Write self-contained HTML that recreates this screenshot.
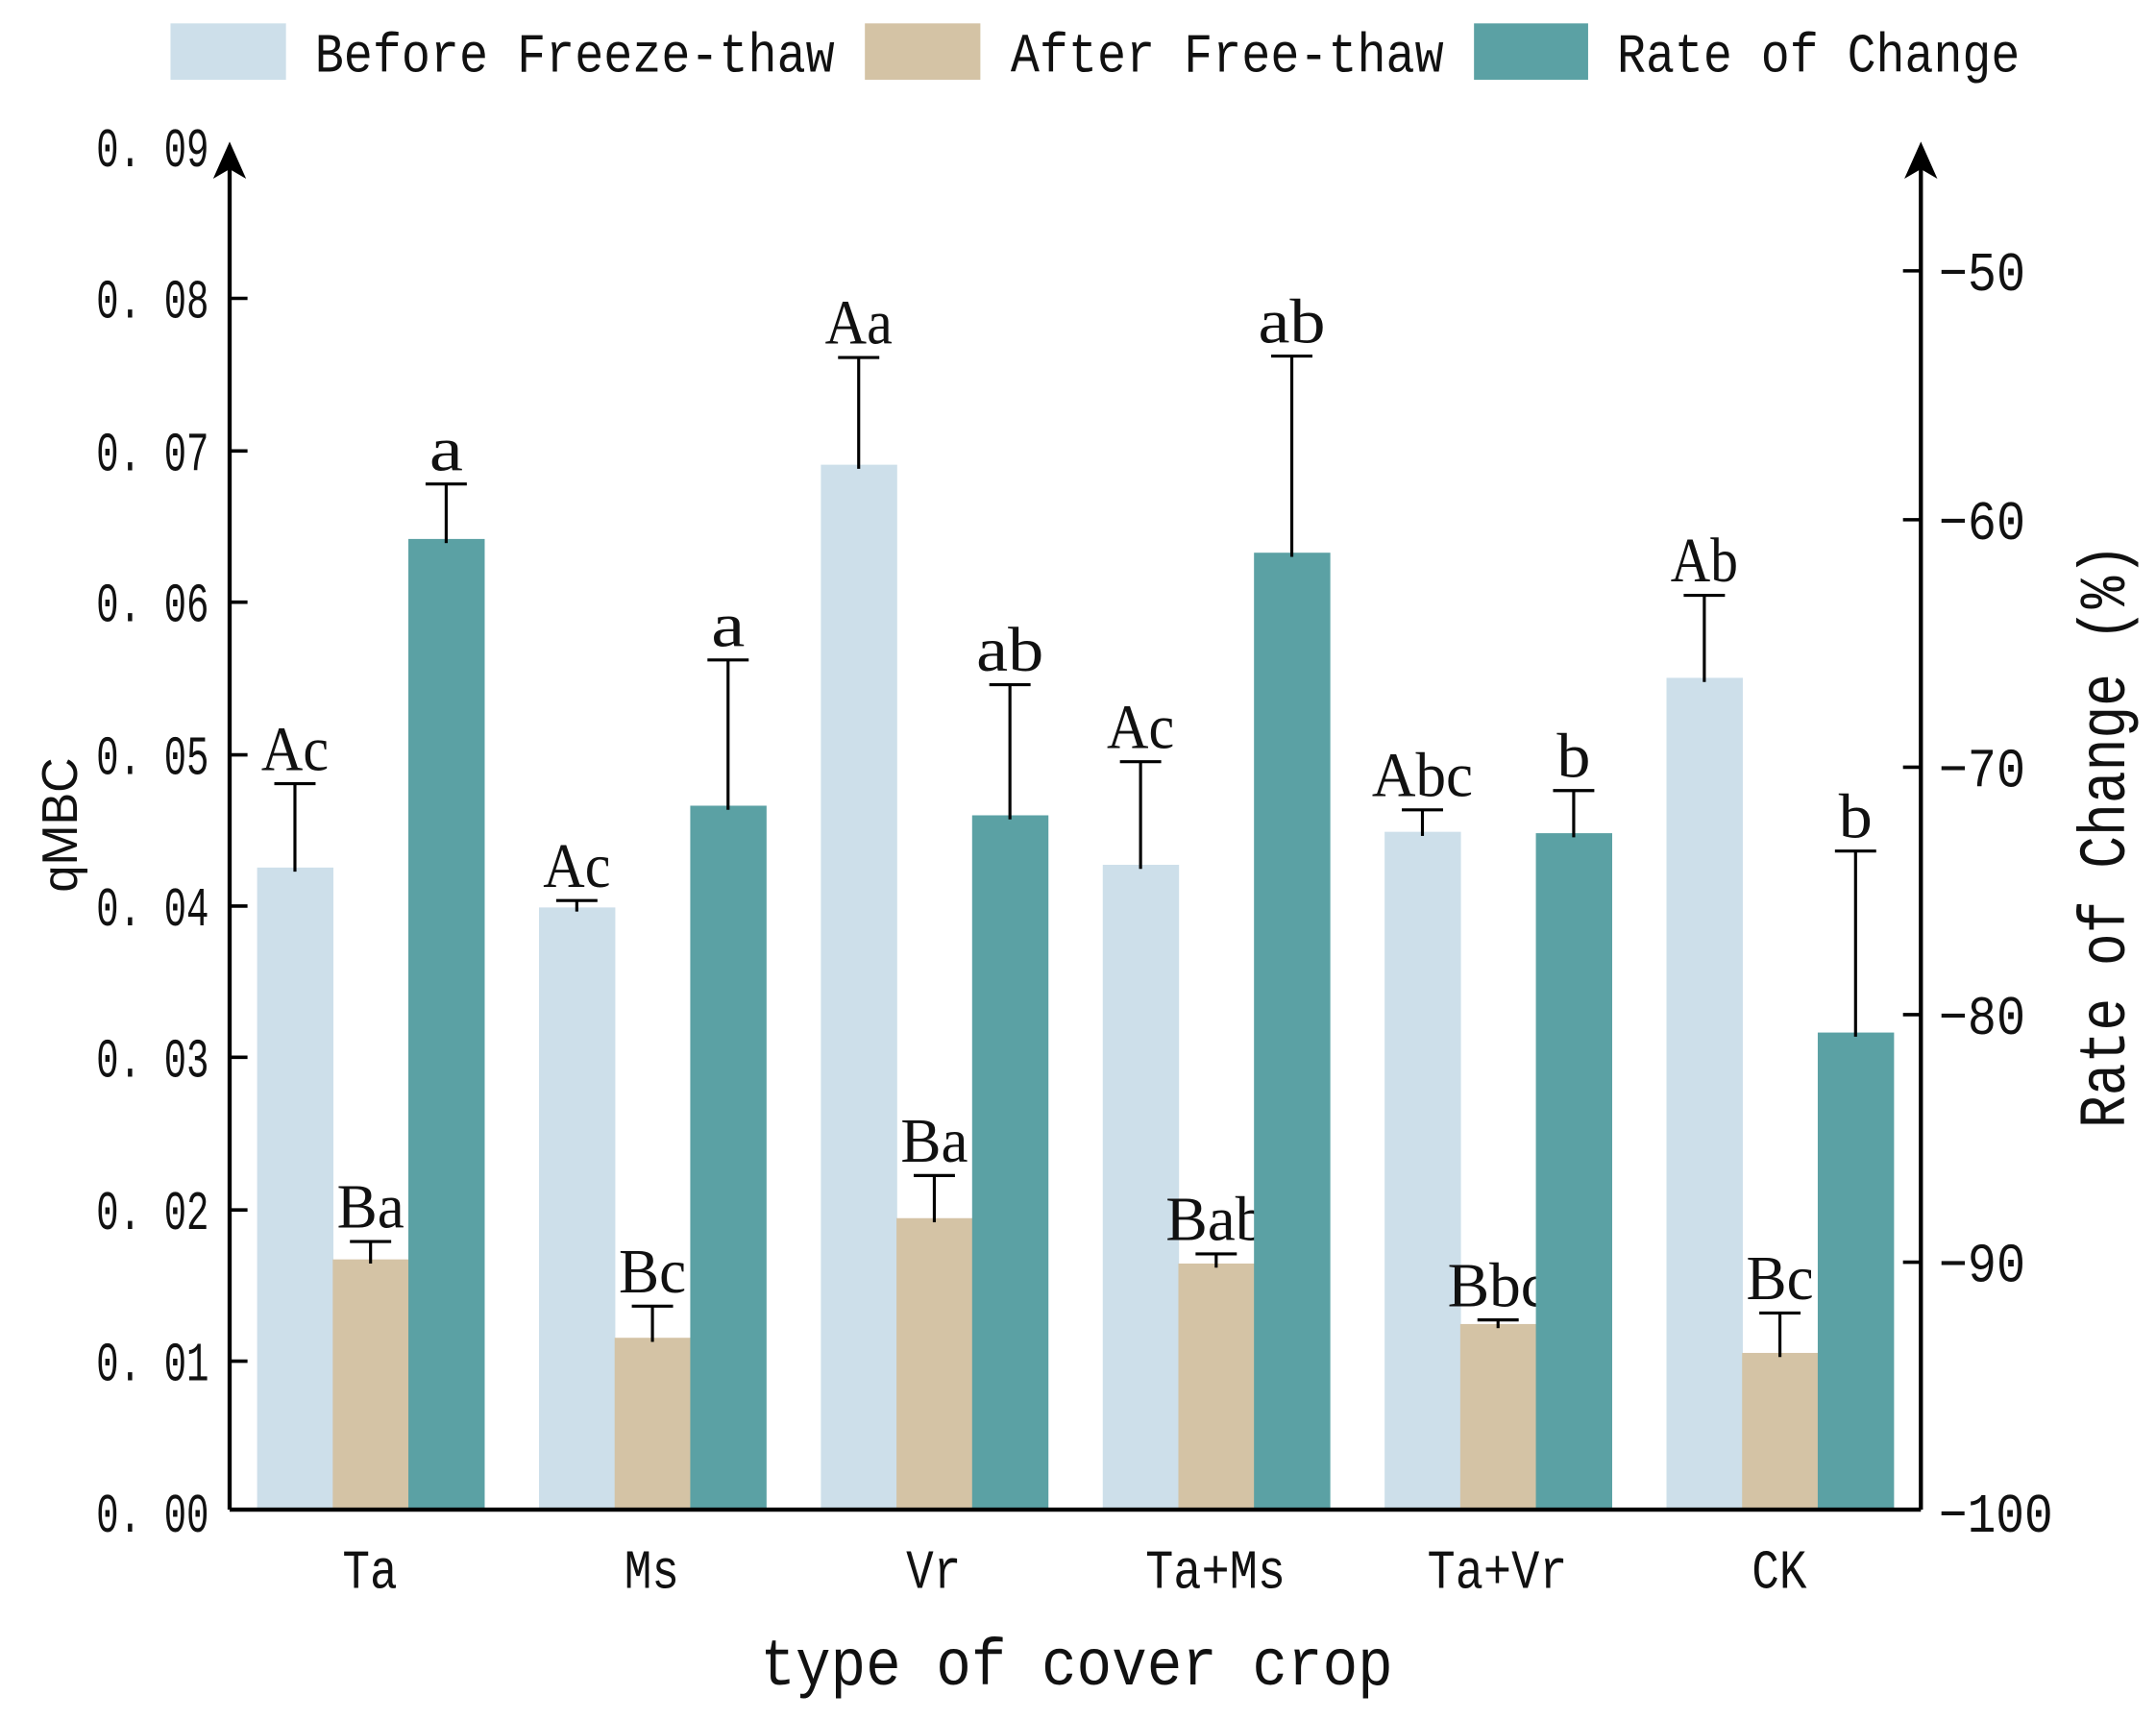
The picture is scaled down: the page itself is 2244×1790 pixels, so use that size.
<!DOCTYPE html>
<html><head><meta charset="utf-8"><style>
html,body{margin:0;padding:0;background:#fff;}
svg{display:block;}
.m{font-family:"Liberation Mono","Noto Sans CJK SC",monospace;fill:#111;}
.s{font-family:"Liberation Serif","Noto Serif CJK SC",serif;fill:#111;}
</style></head><body>
<svg width="2244" height="1790" viewBox="0 0 1568 1251" preserveAspectRatio="none" xmlns="http://www.w3.org/2000/svg">
<rect x="124" y="17" width="84" height="41" fill="#cddfea"/>
<text class="m" x="229" y="52" font-size="40" textLength="378" lengthAdjust="spacingAndGlyphs">Before Freeze-thaw</text>
<rect x="629" y="17" width="84" height="41" fill="#d4c3a5"/>
<text class="m" x="735" y="52" font-size="40" textLength="315" lengthAdjust="spacingAndGlyphs">After Free-thaw</text>
<rect x="1072" y="17" width="83" height="41" fill="#5ba1a4"/>
<text class="m" x="1176" y="52" font-size="40" textLength="293" lengthAdjust="spacingAndGlyphs">Rate of Change</text>

<g id="bars"></g>

<g stroke="#000" stroke-width="3" fill="none">
<line x1="167" y1="1098" x2="1397" y2="1098"/>
<line x1="167" y1="1098" x2="167" y2="112"/>
<line x1="1397" y1="1098" x2="1397" y2="112"/>
</g>
<polygon points="167,103 155,130 167,123 179,130" fill="#000"/>
<polygon points="1397,103 1385,130 1397,123 1409,130" fill="#000"/>

<g stroke="#000" stroke-width="2.5">
<line x1="167" x2="180" y1="217" y2="217"/><line x1="167" x2="180" y1="328" y2="328"/>
<line x1="167" x2="180" y1="438" y2="438"/><line x1="167" x2="180" y1="549" y2="549"/>
<line x1="167" x2="180" y1="659" y2="659"/><line x1="167" x2="180" y1="769" y2="769"/>
<line x1="167" x2="180" y1="880" y2="880"/><line x1="167" x2="180" y1="990" y2="990"/>
<line x1="1384" x2="1397" y1="197" y2="197"/><line x1="1384" x2="1397" y1="378" y2="378"/>
<line x1="1384" x2="1397" y1="558" y2="558"/><line x1="1384" x2="1397" y1="738" y2="738"/>
<line x1="1384" x2="1397" y1="918" y2="918"/>
</g>
<g class="m" font-size="40">
<text x="70" y="121" textLength="82" lengthAdjust="spacingAndGlyphs">0. 09</text>
<text x="70" y="231" textLength="82" lengthAdjust="spacingAndGlyphs">0. 08</text>
<text x="70" y="342" textLength="82" lengthAdjust="spacingAndGlyphs">0. 07</text>
<text x="70" y="452" textLength="82" lengthAdjust="spacingAndGlyphs">0. 06</text>
<text x="70" y="563" textLength="82" lengthAdjust="spacingAndGlyphs">0. 05</text>
<text x="70" y="673" textLength="82" lengthAdjust="spacingAndGlyphs">0. 04</text>
<text x="70" y="783" textLength="82" lengthAdjust="spacingAndGlyphs">0. 03</text>
<text x="70" y="894" textLength="82" lengthAdjust="spacingAndGlyphs">0. 02</text>
<text x="70" y="1004" textLength="82" lengthAdjust="spacingAndGlyphs">0. 01</text>
<text x="70" y="1114" textLength="82" lengthAdjust="spacingAndGlyphs">0. 00</text>
<text x="1410" y="211" textLength="63" lengthAdjust="spacingAndGlyphs">−50</text>
<text x="1410" y="392" textLength="63" lengthAdjust="spacingAndGlyphs">−60</text>
<text x="1410" y="572" textLength="63" lengthAdjust="spacingAndGlyphs">−70</text>
<text x="1410" y="752" textLength="63" lengthAdjust="spacingAndGlyphs">−80</text>
<text x="1410" y="932" textLength="63" lengthAdjust="spacingAndGlyphs">−90</text>
<text x="1410" y="1114" textLength="83" lengthAdjust="spacingAndGlyphs">−100</text>
</g>
<g class="m" font-size="40" text-anchor="middle">
<text x="269" y="1155" textLength="40" lengthAdjust="spacingAndGlyphs">Ta</text>
<text x="474" y="1155" textLength="40" lengthAdjust="spacingAndGlyphs">Ms</text>
<text x="679" y="1155" textLength="40" lengthAdjust="spacingAndGlyphs">Vr</text>
<text x="884" y="1155" textLength="102" lengthAdjust="spacingAndGlyphs">Ta+Ms</text>
<text x="1089" y="1155" textLength="102" lengthAdjust="spacingAndGlyphs">Ta+Vr</text>
<text x="1294" y="1155" textLength="40" lengthAdjust="spacingAndGlyphs">CK</text>
</g>
<text class="m" x="553" y="1225" font-size="48" textLength="460" lengthAdjust="spacingAndGlyphs">type of cover crop</text>
<text font-family="Liberation Sans, sans-serif" fill="#111" font-size="36" transform="translate(56,600) rotate(-90)" text-anchor="middle" textLength="98" lengthAdjust="spacingAndGlyphs">qMBC</text>
<text class="m" font-size="48" transform="translate(1545,608) rotate(-90)" text-anchor="middle" textLength="425" lengthAdjust="spacingAndGlyphs">Rate of Change (%)</text>
</svg>
<script>
var d=[
[[631,570,"Ac"],[916,903,"Ba"],[392,352,"a"]],
[[660,655,"Ac"],[973,950,"Bc"],[586,480,"a"]],
[[338,260,"Aa"],[886,855,"Ba"],[593,498,"ab"]],
[[629,554,"Ac"],[919,912,"Bab"],[402,259,"ab"]],
[[605,589,"Abc"],[963,960,"Bbc"],[606,575,"b"]],
[[493,433,"Ab"],[984,955,"Bc"],[751,619,"b"]]];
var cols=["#cddfea","#d4c3a5","#5ba1a4"],s="";
d.forEach(function(g,i){g.forEach(function(b,j){
var x=187+205*i+55*j,cx=x+27.5;
s+='<rect x="'+x+'" y="'+b[0]+'" width="55.5" height="'+(1098-b[0])+'" fill="'+cols[j]+'"/>';
s+='<line x1="'+cx+'" x2="'+cx+'" y1="'+(b[0]+3)+'" y2="'+b[1]+'" stroke="#000" stroke-width="2.2"/>';
s+='<line x1="'+(cx-15)+'" x2="'+(cx+15)+'" y1="'+b[1]+'" y2="'+b[1]+'" stroke="#000" stroke-width="2.2"/>';
var L=b[2].length*24.5;
s+='<text class="s" x="'+cx+'" y="'+(b[1]-10)+'" font-size="46" text-anchor="middle" textLength="'+L+'" lengthAdjust="spacingAndGlyphs">'+b[2]+'</text>';
});});
document.getElementById("bars").innerHTML=s;
</script>
</body></html>
